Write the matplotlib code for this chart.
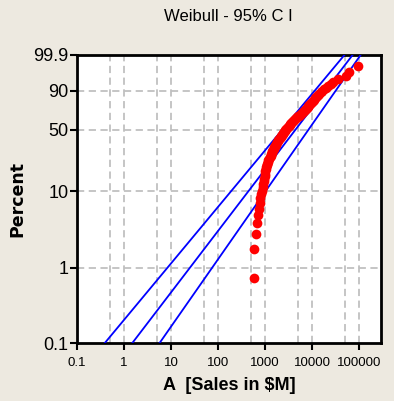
import numpy as np
import matplotlib
matplotlib.use('Agg')
import matplotlib.pyplot as plt

### Sales values (in $M), sorted
sales = [585, 590, 640,
         670, 700, 730, 760, 790,
         820, 850, 880, 910,
         930, 950, 970, 990, 1010, 1030,
         1060, 1090, 1120, 1150, 1170,
         1210, 1260, 1300, 1340, 1380, 1420, 1460,
         1510, 1560, 1610, 1660, 1720, 1780, 1840, 1900,
         1970, 2050, 2130, 2210, 2290, 2370, 2450, 2520, 2580, 2640,
         2720, 2850, 3000, 3150, 3300, 3450, 3600, 3800,
         4000, 4200, 4400, 4600, 4800, 5000, 5300, 5600, 5900, 6200, 6500, 6800, 7100,
         7400, 7700, 8000, 8300, 8700, 9100, 9500, 9900, 10300, 10700,
         11200, 11800, 12500, 13300, 14200, 15200, 16300, 17400,
         19500, 22000, 25000, 28000,
         35000,
         53000, 60000,
         92000]

### Fitted Weibull line and 95% confidence bounds (x at 0.1% and 99.9%)
line_pct = [0.1, 99.9]
bound_left = [0.39, 49000]
fit_mid = [1.5, 73000]
bound_right = [5.7, 108000]

y_ticks = [0.1, 1, 10, 50, 90, 99.9]
y_ticklabels = ['0.1', '1', '10', '50', '90', '99.9']
x_ticks = [0.1, 1, 10, 100, 1000, 10000, 100000]
x_ticklabels = ['0.1', '1', '10', '100', '1000', '10000', '100000']
x_grid = [0.5, 1, 5, 10, 50, 100, 500, 1000, 5000, 10000, 50000, 100000]
y_grid = [1, 10, 50, 90]


def weib(pct):
    ### Weibull probability scale: ln(-ln(1-p))
    p = np.asarray(pct, dtype=float) / 100.0
    return np.log(-np.log(1.0 - p))


font = ['Liberation Sans', 'DejaVu Sans']
bg = '#EDE9E0'

fig = plt.figure(figsize=(3.94, 4.01), dpi=100, facecolor=bg)
ax = fig.add_axes([77/394, 58/401, 304/394, 288.3/401])
ax.set_facecolor('white')

ax.set_xscale('log')
ax.set_xlim(0.1, 2.9e5)
ax.set_ylim(weib(0.1), weib(99.9))

for gx in x_grid:
    ax.axvline(gx, color='#C0C0C0', lw=1.3, ls=(0, (4, 2.5)), zorder=1)
for gy in y_grid:
    ax.axhline(weib(gy), color='#C0C0C0', lw=1.3, ls=(0, (4, 2.5)), zorder=1)

for xs in (bound_left, fit_mid, bound_right):
    ax.plot(xs, weib(line_pct), color='#0000FF', lw=1.3, zorder=3)

### Median-rank plotting positions
n = len(sales)
ranks = np.arange(1, n + 1)
pct = (ranks - 0.3) / (n + 0.4) * 100.0
ax.plot(sales, weib(pct), 'o', color='#FF0000', ms=7, mec='none', zorder=4)

ax.set_xticks(x_ticks)
ax.set_xticklabels(x_ticklabels, family=font, fontsize=9.5)
ax.xaxis.set_minor_locator(matplotlib.ticker.NullLocator())
ax.set_yticks(weib(y_ticks))
ax.set_yticklabels(y_ticklabels, family=font, fontsize=13)
ax.tick_params(axis='both', direction='out', length=5, width=1.5, color='black')
ax.tick_params(axis='y', pad=1)
ax.tick_params(axis='x', pad=5)

for s in ax.spines.values():
    s.set_linewidth(2)
    s.set_color('black')

ax.set_ylabel('Percent', fontsize=12.5, fontweight='bold', family='DejaVu Sans')
ax.yaxis.set_label_coords(-0.165, 0.5)
ax.set_xlabel('A  [Sales in $M]', fontsize=13, fontweight='bold', family=font)
ax.xaxis.set_label_coords(0.5, -0.118)

fig.text(0.579, 0.958, 'Weibull - 95% C I', ha='center', va='center',
         fontsize=12, family=font)

fig.savefig('out.png', dpi=100, facecolor=bg)
